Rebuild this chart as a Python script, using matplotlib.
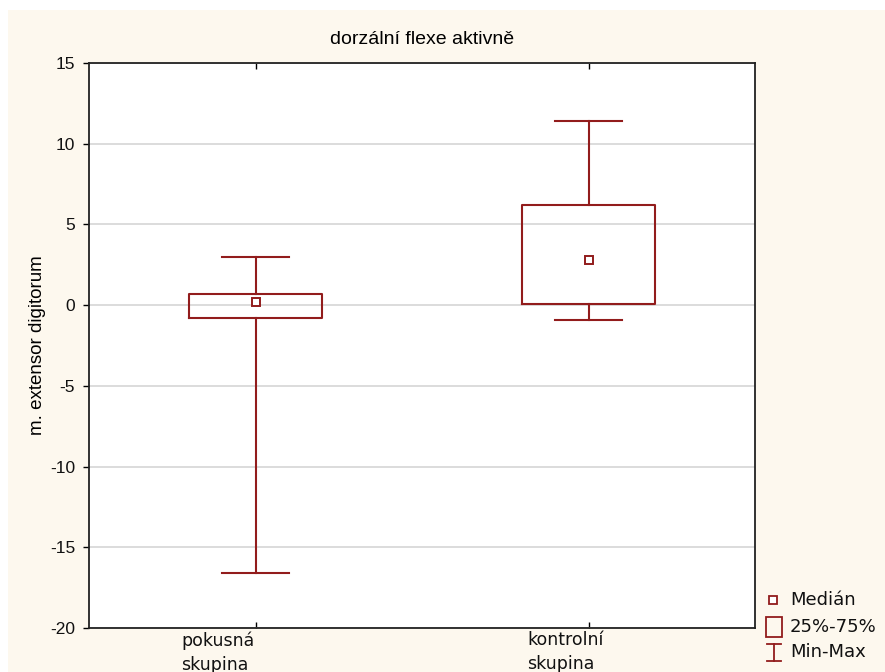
import matplotlib.pyplot as plt
from matplotlib.patches import Rectangle
from matplotlib.lines import Line2D
from matplotlib.transforms import ScaledTranslation

plt.rcParams['font.family'] = ['Liberation Sans', 'DejaVu Sans']

# Box plot summary values per group
groups = ['pokusná\nskupina', 'kontrolní\nskupina']
medians = [0.2, 2.8]
q1 = [-0.8, 0.1]
q3 = [0.7, 6.2]
mins = [-16.6, -0.9]
maxs = [3.0, 11.4]

yticks = [15, 10, 5, 0, -5, -10, -15, -20]
legend_labels = ['Medián', '25%-75%', 'Min-Max']

red = '#921c1c'
cream = '#fdf8ee'

fig = plt.figure(figsize=(8.85, 6.72), dpi=100)
fig.patch.set_facecolor('white')
# cream panel behind the chart
fig.add_artist(Rectangle((8 / 885, 0), 1, 1 - 10 / 672, transform=fig.transFigure,
                         facecolor=cream, edgecolor='none', zorder=-10))

ax = fig.add_axes([89 / 885, 44 / 672, 666 / 885, 565 / 672])
ax.set_facecolor('white')

pos = [1, 2]
stats = []
for i in range(len(groups)):
    stats.append(dict(med=medians[i], q1=q1[i], q3=q3[i],
                      whislo=mins[i], whishi=maxs[i], fliers=[]))
ax.bxp(stats, positions=pos, widths=0.4, showfliers=False,
       boxprops=dict(color=red, linewidth=1.5),
       whiskerprops=dict(color=red, linewidth=1.5),
       capprops=dict(color=red, linewidth=1.5),
       medianprops=dict(linestyle='none'),
       capwidths=0.2, manage_ticks=False, zorder=3)
ax.plot(pos, medians, linestyle='none', marker='s', markersize=6,
        markerfacecolor='white', markeredgecolor=red, markeredgewidth=1.4, zorder=4)

ax.set_xlim(0.5, 2.5)
ax.set_ylim(-20, 15)
ax.set_yticks(yticks)
ax.set_yticklabels([str(t) for t in yticks], fontsize=12.5, color='#111111')
ax.set_xticks(pos)
ax.set_xticklabels([])
# group labels, set a little left of their ticks
for p, name, dx in zip(pos, groups, [-74, -61]):
    tr = ax.get_xaxis_transform() + ScaledTranslation(dx / 100, -0.03, fig.dpi_scale_trans)
    ax.text(p, 0, name, transform=tr, fontsize=12.5, color='#111111', ha='left', va='top',
            linespacing=1.45, family='DejaVu Sans', clip_on=False)
ax.tick_params(axis='y', direction='out', length=4, width=1, pad=6)
ax.tick_params(axis='x', direction='in', length=4, width=1, top=True)
ax.grid(axis='y', color='#d9d9d9', linewidth=1.3, zorder=0)
ax.set_axisbelow(True)
for s in ax.spines.values():
    s.set_color('#222222')
    s.set_linewidth(1.3)

ax.set_title('dorzální flexe aktivně', fontsize=14, pad=14)
ax.set_ylabel('m. extensor digitorum', fontsize=13.5, labelpad=3)

# legend drawn in figure pixel coordinates
def fx(x):
    return x / 885

def fy(y):
    return 1 - y / 672

fig.add_artist(Line2D([fx(773)], [fy(600)], marker='s', markersize=6, linestyle='none',
                      markerfacecolor='white', markeredgecolor=red, markeredgewidth=1.3))
fig.add_artist(Rectangle((fx(766), fy(637)), 16 / 885, 20 / 672, transform=fig.transFigure,
                         facecolor='none', edgecolor=red, linewidth=1.3))
fig.add_artist(Line2D([fx(774), fx(774)], [fy(644), fy(661)], color=red, linewidth=1.3))
fig.add_artist(Line2D([fx(767), fx(781)], [fy(644), fy(644)], color=red, linewidth=1.3))
fig.add_artist(Line2D([fx(767), fx(781)], [fy(661), fy(661)], color=red, linewidth=1.3))
for label, y in zip(legend_labels, [600, 627, 652]):
    fig.text(fx(790), fy(y), label, fontsize=13, va='center', ha='left',
             color='#111111', family='DejaVu Sans')

fig.savefig('out.png', dpi=100, facecolor=fig.get_facecolor())
